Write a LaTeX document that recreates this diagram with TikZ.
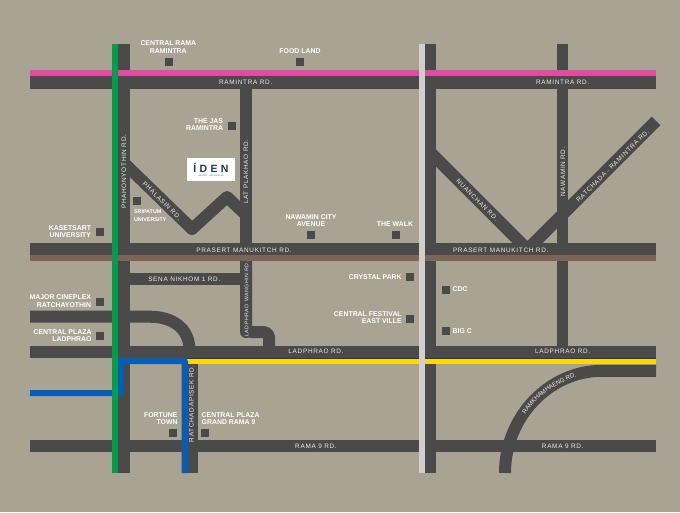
\documentclass[tikz,border=0pt]{standalone}
\usepackage{fontspec}
\setmainfont{Liberation Sans}
\newfontfamily\roadfam[LetterSpace=11]{Liberation Sans}
\newfontfamily\logofam[LetterSpace=32]{Liberation Sans}
\usetikzlibrary{decorations.text}
\definecolor{bgc}{RGB}{168,163,147}
\definecolor{roadc}{RGB}{74,74,75}
\definecolor{pinkc}{RGB}{224,76,160}
\definecolor{greenc}{RGB}{0,158,76}
\definecolor{bluec}{RGB}{6,94,180}
\definecolor{yellowc}{RGB}{255,216,0}
\definecolor{brownc}{RGB}{122,101,88}
\definecolor{greyc}{RGB}{207,207,207}
\definecolor{navyc}{RGB}{26,58,80}
\definecolor{roadtxt}{RGB}{238,236,230}
\tikzset{
  roadrect/.style={fill=roadc,draw=none},
  roadline/.style={draw=roadc,line width=12pt,line join=round},
  sq/.style={fill=roadc,draw=none,minimum size=8pt,inner sep=0pt,outer sep=0pt},
  poi/.style={text=white,font=\bfseries\fontsize{6.9}{7.4}\selectfont,inner sep=0pt,outer sep=0pt,align=center},
  poil/.style={poi,align=left,anchor=west},
  poir/.style={poi,align=right,anchor=east},
  rd/.style={text=roadtxt,font=\roadfam\fontsize{6.4}{7}\selectfont,inner sep=0pt,outer sep=0pt},
}
\begin{document}
\begin{tikzpicture}[x=1pt,y=-1pt]
\useasboundingbox (0,0) rectangle (680,512);
\fill[bgc] (0,0) rectangle (680,512);
% horizontal roads
\fill[roadrect] (30,76.3) rectangle (656,88.7);
\fill[roadrect] (30,243.3) rectangle (656,255);
\fill[roadrect] (129,273.3) rectangle (241,285.3);
\fill[roadrect] (30,345.7) rectangle (656,358);
\fill[roadrect] (30,440) rectangle (656,452);
% vertical roads
\fill[roadrect] (118,44) rectangle (129.5,473);
\fill[roadrect] (240,88) rectangle (251.7,255);
\fill[roadrect] (425.3,44) rectangle (436,473);
\fill[roadrect] (556.7,44) rectangle (568.3,346);
\fill[roadrect] (182,358) rectangle (197.8,473);
% bent and diagonal roads
\draw[roadline] (246,255) -- (246,332) [rounded corners=5pt] -- (246,332) -- (269,332) -- (269,347);
\draw[roadline] (30,316.7) -- (150,316.7) .. controls (172,316.7) and (189.5,328) .. (189.5,350);
\draw[roadline] (124,163) -- (192,229) -- (227,197) -- (244,213);
\draw[roadline,line width=12.2pt] (430,152) -- (524,246);
\draw[roadline,line width=12.2pt] (656,121) -- (530,247);
\draw[roadline] (656,370.8) -- (602,370.8) .. controls (549,370.8) and (505,417) .. (505,473);
% coloured lines
\fill[pinkc] (30,70) rectangle (656,76.3);
\fill[brownc] (30,255) rectangle (656,261.3);
\fill[yellowc] (187,358) rectangle (656,364);
\draw[navyc,line width=0.5pt] (187,357.8) -- (656,357.8);
\fill[bluec] (118,358) -- (185,358) -- (188,361) -- (188,473) -- (181.7,473) -- (181.7,364) -- (122.8,364) -- (122.8,393.5) -- (120.3,396) -- (30,396) -- (30,390) -- (118,390) -- cycle;
\fill[greenc] (112,44) rectangle (118,473);
\fill[greyc] (418.7,44) rectangle (425.2,473);
% logo
\node[fill=white,minimum width=47.4pt,minimum height=22.4pt,inner sep=0pt] (logo) at (211,169.5) {};
\node[text=navyc,font=\logofam\bfseries\fontsize{10.5}{11}\selectfont,inner sep=0pt] (logotext) at (211,168) {ÍDEN};
\node[text=navyc!70,font=\fontsize{2.2}{2.5}\selectfont,inner sep=0pt] (logosub) at (211,176) {RESORT · RESIDENCES};
% places
\node[sq] (p1) at (169,62) {};
\node[poi] (t1) at (168.3,47) {CENTRAL RAMA\\RAMINTRA};
\node[sq] (p2) at (299.7,62) {};
\node[poi] (t2) at (300,50.8) {FOOD LAND};
\node[sq] (p3) at (231.7,125.7) {};
\node[poir] (t3) at (223,124.4) {THE JAS\\RAMINTRA};
\node[sq] (p4) at (137.3,201.3) {};
\node[poil,font=\bfseries\fontsize{5.4}{7.3}\selectfont] (t4) at (134,215.5) {SRIPATUM\\UNIVERSITY};
\node[sq] (p5) at (99.7,232.3) {};
\node[poir] (t5) at (91,231.6) {KASETSART\\UNIVERSITY};
\node[sq] (p6) at (311.3,235) {};
\node[poi] (t6) at (311,220.4) {NAWAMIN CITY\\AVENUE};
\node[sq] (p7) at (395.7,235) {};
\node[poi] (t7) at (395,224.6) {THE WALK};
\node[sq] (p8) at (99.7,301.7) {};
\node[poir] (t8) at (91,301.2) {MAJOR CINEPLEX\\RATCHAYOTHIN};
\node[sq] (p9) at (99.7,336.3) {};
\node[poir] (t9) at (91.5,335.7) {CENTRAL PLAZA\\LADPHRAO};
\node[sq] (p10) at (173.3,433.3) {};
\node[poir] (t10) at (177.5,418.4) {FORTUNE\\TOWN};
\node[sq] (p11) at (205.3,433.3) {};
\node[poil] (t11) at (201.7,418.4) {CENTRAL PLAZA\\GRAND RAMA 9};
\node[sq] (p12) at (410.3,277.3) {};
\node[poir] (t12) at (401.7,277) {CRYSTAL PARK};
\node[sq] (p13) at (410.3,318.7) {};
\node[poir] (t13) at (401.7,317.7) {CENTRAL FESTIVAL\\EAST VILLE};
\node[sq] (p14) at (445.7,289.7) {};
\node[poil] (t14) at (452.7,289.5) {CDC};
\node[sq] (p15) at (445.7,330.7) {};
\node[poil] (t15) at (452.7,330.7) {BIG C};
% road labels
\node[rd] (r1) at (245.7,82.4) {RAMINTRA RD.};
\node[rd] (r2) at (562.7,82.4) {RAMINTRA RD.};
\node[rd,rotate=90] (r3) at (124,171.7) {PHAHONYOTHIN RD.};
\node[rd,rotate=90] (r4) at (246,171.7) {LAT PLAKHAO RD.};
\node[rd,rotate=-45] (r5) at (162,201) {PHALASIN RD.};
\node[rd] (r6) at (244,250) {PRASERT MANUKITCH RD.};
\node[rd] (r7) at (500.7,250) {PRASERT MANUKITCH RD.};
\node[rd] (r8) at (184.3,279.4) {SENA NIKHOM 1 RD.};
\node[rd,rotate=90,font=\roadfam\fontsize{5.2}{6}\selectfont] (r9) at (246.5,299) {LADPHRAO WANGHIN RD.};
\node[rd] (r10) at (316,351.7) {LADPHRAO RD.};
\node[rd] (r11) at (562.7,351.7) {LADPHRAO RD.};
\node[rd,rotate=90] (r12) at (191.5,403.7) {RATCHADAPISEK RD.};
\node[rd] (r13) at (316,446) {RAMA 9 RD.};
\node[rd] (r14) at (562.7,446) {RAMA 9 RD.};
\node[rd,rotate=-45] (r15) at (477.3,200) {NUANCHAN RD.};
\node[rd,rotate=90] (r16) at (563,171.7) {NAWAMIN RD.};
\node[rd,rotate=45] (r17) at (612.7,166) {RATCHADA - RAMINTRA RD.};
\path[decorate,decoration={text along path,text align=center,raise=-2.3pt,text color=roadtxt,
  text={|\fontsize{6.2}{7}\selectfont|RAMKHAMHAENG RD.}}]
  (513,437) .. controls (522,400) and (560,371) .. (602,371);
\end{tikzpicture}
\end{document}
